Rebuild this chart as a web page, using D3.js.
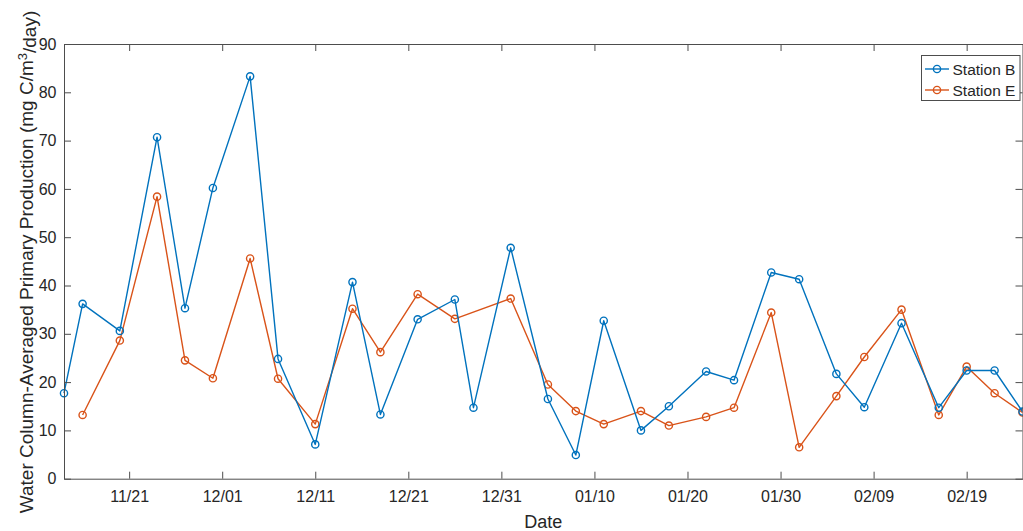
<!DOCTYPE html>
<html>
<head>
<meta charset="utf-8">
<script src="https://cdn.jsdelivr.net/npm/d3@7"></script>
<style>
  html, body { margin: 0; padding: 0; background: #fff; }
  svg { display: block; font-family: "Liberation Sans", Arial, sans-serif; }
</style>
</head>
<body>
<svg id="chart" width="1023" height="531"></svg>
<script>
// Sampling dates (year only anchors the calendar)
const dates = [
  "2019-11-14","2019-11-16","2019-11-20","2019-11-24","2019-11-27","2019-11-30",
  "2019-12-04","2019-12-07","2019-12-11","2019-12-15","2019-12-18","2019-12-22",
  "2019-12-26","2019-12-28","2020-01-01","2020-01-05","2020-01-08","2020-01-11",
  "2020-01-15","2020-01-18","2020-01-22","2020-01-25","2020-01-29","2020-02-01",
  "2020-02-05","2020-02-08","2020-02-12","2020-02-16","2020-02-19","2020-02-22",
  "2020-02-25"
];

// Water column-averaged primary production (mg C/m^3/day); null = not sampled
const stationB = [
  17.7, 36.2, 30.6, 70.7, 35.3, 60.2,
  83.3, 24.8, 7.1, 40.7, 13.3, 33.0,
  37.1, 14.7, 47.8, 16.5, 4.9, 32.7,
  10.0, 15.0, 22.2, 20.4, 42.7, 41.3,
  21.7, 14.8, 32.2, 14.7, 22.4, 22.4,
  13.9
];
const stationE = [
  null, 13.2, 28.6, 58.4, 24.5, 20.8,
  45.6, 20.7, 11.3, 35.2, 26.2, 38.2,
  33.1, null, 37.3, 19.5, 14.0, 11.3,
  14.0, 11.0, 12.8, 14.7, 34.4, 6.5,
  17.1, 25.2, 35.0, 13.2, 23.2, 17.7,
  13.7
];

const seriesNames = ["Station B", "Station E"];
const seriesColors = ["#0072BD", "#D95319"];

const xTickDates = ["2019-11-21","2019-12-01","2019-12-11","2019-12-21","2019-12-31",
                    "2020-01-10","2020-01-20","2020-01-30","2020-02-09","2020-02-19"];
const yTicks = [0, 10, 20, 30, 40, 50, 60, 70, 80, 90];
const xDomain = ["2019-11-14", "2020-02-25"];

const parse = d3.timeParse("%Y-%m-%d");
const fmt = d3.timeFormat("%m/%d");

const margin = { left: 64, right: 0.5, top: 44, bottom: 52.3 };
const W = 1023, H = 531;
const svg = d3.select("#chart");

const x = d3.scaleTime()
  .domain(xDomain.map(parse))
  .range([margin.left, W - margin.right]);
const y = d3.scaleLinear()
  .domain([0, 90])
  .range([H - margin.bottom, margin.top]);

const axisColor = "#4d4d4d";
const textColor = "#262626";

// Plot lines and markers
const series = [stationB, stationE].map((vals, i) => ({
  name: seriesNames[i],
  color: seriesColors[i],
  points: dates.map((d, j) => ({ date: parse(d), value: vals[j] }))
                .filter(p => p.value !== null)
}));

const line = d3.line().x(d => x(d.date)).y(d => y(d.value));

const plot = svg.append("g");
// orange first so the blue series sits on top where they overlap
series.slice().reverse().forEach(s => {
  plot.append("path")
    .datum(s.points)
    .attr("fill", "none")
    .attr("stroke", s.color)
    .attr("stroke-width", 1.4)
    .attr("stroke-linejoin", "round")
    .attr("d", line);
  plot.selectAll(null)
    .data(s.points)
    .enter().append("circle")
    .attr("cx", d => x(d.date))
    .attr("cy", d => y(d.value))
    .attr("r", 3.6)
    .attr("fill", "none")
    .attr("stroke", s.color)
    .attr("stroke-width", 1.4);
});

// Axes (box with inward ticks on all sides)
const tickLen = 7;
const xBottom = svg.append("g")
  .attr("transform", `translate(0,${H - margin.bottom})`)
  .call(d3.axisBottom(x).tickValues(xTickDates.map(parse)).tickFormat(fmt)
        .tickSizeInner(-tickLen).tickSizeOuter(0).tickPadding(12));
const xTop = svg.append("g")
  .attr("transform", `translate(0,${margin.top})`)
  .call(d3.axisTop(x).tickValues(xTickDates.map(parse)).tickFormat("")
        .tickSizeInner(-tickLen).tickSizeOuter(0));
const yLeft = svg.append("g")
  .attr("transform", `translate(${margin.left},0)`)
  .call(d3.axisLeft(y).tickValues(yTicks)
        .tickSizeInner(-tickLen).tickSizeOuter(0).tickPadding(7.5));
const yRight = svg.append("g")
  .attr("transform", `translate(${W - margin.right},0)`)
  .call(d3.axisRight(y).tickValues(yTicks).tickFormat("")
        .tickSizeInner(-tickLen).tickSizeOuter(0));

[xBottom, xTop, yLeft, yRight].forEach(g => {
  g.select(".domain").attr("stroke", axisColor).attr("stroke-width", 1);
  g.selectAll(".tick line").attr("stroke", axisColor).attr("stroke-width", 1);
  g.selectAll(".tick text").attr("fill", textColor).style("font-size", "16px");
});
xBottom.selectAll(".tick text").attr("dy", "0.71em");

// Axis titles
svg.append("text")
  .attr("x", (margin.left + W - margin.right) / 2)
  .attr("y", 528)
  .attr("text-anchor", "middle")
  .attr("fill", textColor)
  .style("font-size", "18px")
  .text("Date");

const yTitle = svg.append("text")
  .attr("transform", "translate(33,262) rotate(-90)")
  .attr("text-anchor", "middle")
  .attr("fill", textColor)
  .style("font-size", "19px");
yTitle.append("tspan").text("Water Column-Averaged Primary Production (mg C/m");
yTitle.append("tspan").attr("dy", "-0.45em").style("font-size", "13px").text("3");
yTitle.append("tspan").attr("dy", "0.45em").text("/day)");

// Legend
const lg = svg.append("g").attr("transform", "translate(921.5,55.5)");
lg.append("rect")
  .attr("width", 98.5).attr("height", 45)
  .attr("fill", "#fff").attr("stroke", axisColor).attr("stroke-width", 1);
series.forEach((s, i) => {
  const cy = 13.5 + i * 21;
  lg.append("line")
    .attr("x1", 3.5).attr("x2", 27.5).attr("y1", cy).attr("y2", cy)
    .attr("stroke", s.color).attr("stroke-width", 1.4);
  lg.append("circle")
    .attr("cx", 15.5).attr("cy", cy).attr("r", 3.6)
    .attr("fill", "none").attr("stroke", s.color).attr("stroke-width", 1.4);
  lg.append("text")
    .attr("x", 31).attr("y", cy).attr("dy", "0.36em")
    .attr("fill", textColor)
    .style("font-size", "15.5px")
    .text(s.name);
});
</script>
</body>
</html>
